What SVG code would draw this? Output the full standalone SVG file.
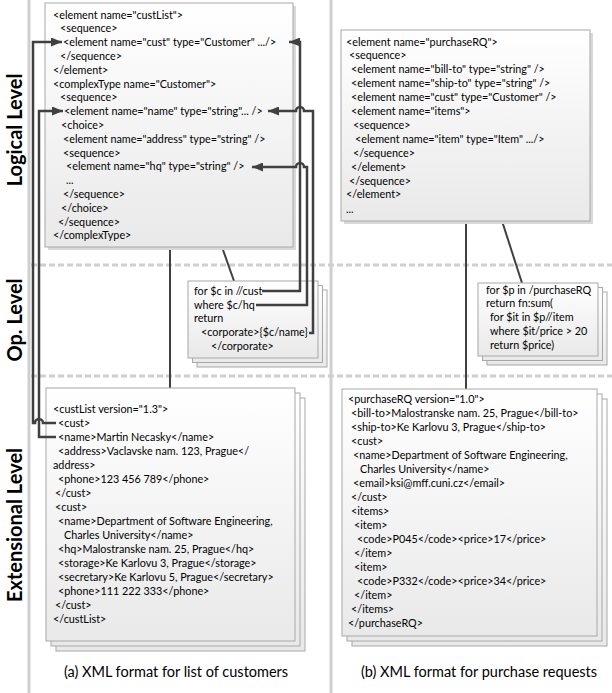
<svg xmlns="http://www.w3.org/2000/svg" width="612" height="693" viewBox="0 0 612 693">
<defs>
<linearGradient id="g" x1="0" y1="0" x2="0" y2="1"><stop offset="0" stop-color="#ffffff"/><stop offset="1" stop-color="#e9e9e9"/></linearGradient>
<marker id="ah" viewBox="0 0 11 9" refX="11" refY="4.5" markerWidth="11" markerHeight="9" markerUnits="userSpaceOnUse" orient="auto"><path d="M0,0 L11,4.5 L0,9 Z" fill="#404040"/></marker>
</defs>
<style>
.t{font-family:Lato,"Liberation Sans",sans-serif;font-size:10.8px;fill:#000}
.lvl{font-family:Lato,"Liberation Sans",sans-serif;font-weight:bold;font-size:20px;fill:#000;text-anchor:middle}
.cap{font-family:Lato,"Liberation Sans",sans-serif;font-size:14.5px;fill:#000;text-anchor:middle}
.box{fill:url(#g);stroke:#a8a8a8;stroke-width:1}
.shadow{fill:#d9d9d9}
.conn{fill:none;stroke:#404040;stroke-width:2.5}
.link{fill:none;stroke:#404040;stroke-width:2}
.sep{stroke:#cfcfcf;stroke-width:3}
.dash{stroke:#cfcfcf;stroke-width:3;stroke-dasharray:6 3}
</style>
<rect width="612" height="693" fill="#ffffff"/>
<g id="separators">
<line class="sep" x1="29" y1="0" x2="29" y2="693"/>
<line class="sep" x1="331" y1="0" x2="331" y2="693"/>
<line class="dash" x1="31" y1="265" x2="612" y2="265"/>
<line class="dash" x1="31" y1="376" x2="612" y2="376"/>
</g>
<g id="level-labels">
<text class="lvl" transform="translate(22,130) rotate(-90)">Logical Level</text>
<text class="lvl" transform="translate(22,320) rotate(-90)">Op. Level</text>
<text class="lvl" transform="translate(22,525) rotate(-90)">Extensional  Level</text>
</g>
<g id="links">
<line class="link" x1="170" y1="247" x2="170" y2="388"/>
<line class="link" x1="222" y1="247" x2="234" y2="281"/>
<line class="link" x1="466" y1="221" x2="466" y2="389"/>
<line class="link" x1="502" y1="221" x2="522" y2="283"/>
</g>
<g id="schema-custList">
<rect class="shadow" x="48" y="6" width="248" height="244"/>
<rect class="box" x="45" y="3" width="248" height="244"/>
<text class="t" x="53" y="18.5">&lt;element name="custList"&gt;</text>
<text class="t" x="60" y="32.3">&lt;sequence&gt;</text>
<text class="t" x="63" y="46.1">&lt;element name="cust" type="Customer" .../&gt;</text>
<text class="t" x="60" y="59.9">&lt;/sequence&gt;</text>
<text class="t" x="53" y="73.7">&lt;/element&gt;</text>
<text class="t" x="53" y="87.5">&lt;complexType name="Customer"&gt;</text>
<text class="t" x="60" y="101.3">&lt;sequence&gt;</text>
<text class="t" x="64" y="115.1">&lt;element name="name" type="string"... /&gt;</text>
<text class="t" x="61" y="128.9">&lt;choice&gt;</text>
<text class="t" x="63" y="142.7">&lt;element name="address" type="string" /&gt;</text>
<text class="t" x="63" y="156.5">&lt;sequence&gt;</text>
<text class="t" x="66" y="170.3">&lt;element name="hq" type="string" /&gt;</text>
<text class="t" x="66" y="184.1">...</text>
<text class="t" x="63" y="197.9">&lt;/sequence&gt;</text>
<text class="t" x="61" y="211.7">&lt;/choice&gt;</text>
<text class="t" x="58" y="225.5">&lt;/sequence&gt;</text>
<text class="t" x="53" y="239.3">&lt;/complexType&gt;</text>
</g>
<g id="schema-purchaseRQ">
<rect class="shadow" x="344" y="33" width="249" height="191"/>
<rect class="box" x="341" y="30" width="249" height="191"/>
<text class="t" x="346" y="45.5">&lt;element name="purchaseRQ"&gt;</text>
<text class="t" x="349" y="59.4">&lt;sequence&gt;</text>
<text class="t" x="351" y="73.3">&lt;element name="bill-to" type="string" /&gt;</text>
<text class="t" x="351" y="87.2">&lt;element name="ship-to" type="string" /&gt;</text>
<text class="t" x="351" y="101.1">&lt;element name="cust" type="Customer" /&gt;</text>
<text class="t" x="351" y="115">&lt;element name="items"&gt;</text>
<text class="t" x="353" y="128.9">&lt;sequence&gt;</text>
<text class="t" x="355" y="142.8">&lt;element name="item" type="Item" .../&gt;</text>
<text class="t" x="353" y="156.7">&lt;/sequence&gt;</text>
<text class="t" x="351" y="170.6">&lt;/element&gt;</text>
<text class="t" x="349" y="184.5">&lt;/sequence&gt;</text>
<text class="t" x="346" y="198.4">&lt;/element&gt;</text>
<text class="t" x="346" y="213">...</text>
</g>
<g id="query-corporate">
<rect class="box" x="197" y="290" width="130" height="77"/>
<rect class="box" x="192.5" y="285.5" width="130" height="77"/>
<rect class="box" x="188" y="281" width="130" height="77"/>
<text class="t" x="194" y="294.5">for $c in //cust</text>
<text class="t" x="194" y="308.5">where $c/hq</text>
<text class="t" x="194" y="321.5">return</text>
<text class="t" x="201" y="335.5">&lt;corporate&gt;{$c/name}</text>
<text class="t" x="211" y="349.5">&lt;/corporate&gt;</text>
</g>
<g id="query-sum">
<rect class="box" x="487" y="292" width="120" height="73"/>
<rect class="box" x="482.5" y="287.5" width="120" height="73"/>
<rect class="box" x="478" y="283" width="120" height="73"/>
<text class="t" x="486" y="293.5">for $p in /purchaseRQ</text>
<text class="t" x="486" y="307">return fn:sum(</text>
<text class="t" x="490" y="320.5">for $it in $p//item</text>
<text class="t" x="490" y="334.5">where $it/price &gt; 20</text>
<text class="t" x="490" y="348.5">return $price)</text>
</g>
<g id="doc-custList">
<rect class="box" x="56" y="398" width="249" height="253"/>
<rect class="box" x="51" y="393" width="249" height="253"/>
<rect class="box" x="46" y="388" width="249" height="253"/>
<text class="t" x="53" y="412.5">&lt;custList version="1.3"&gt;</text>
<text class="t" x="58" y="426.5">&lt;cust&gt;</text>
<text class="t" x="58" y="440.5">&lt;name&gt;Martin Necasky&lt;/name&gt;</text>
<text class="t" x="58" y="454.5">&lt;address&gt;Vaclavske nam. 123, Prague&lt;/</text>
<text class="t" x="53" y="468.5">address&gt;</text>
<text class="t" x="58" y="482.5">&lt;phone&gt;123 456 789&lt;/phone&gt;</text>
<text class="t" x="55" y="496.5">&lt;/cust&gt;</text>
<text class="t" x="55" y="510.5">&lt;cust&gt;</text>
<text class="t" x="58" y="524.5">&lt;name&gt;Department of Software Engineering,</text>
<text class="t" x="64" y="538.5">Charles University&lt;/name&gt;</text>
<text class="t" x="58" y="552.5">&lt;hq&gt;Malostranske nam. 25, Prague&lt;/hq&gt;</text>
<text class="t" x="58" y="566.5">&lt;storage&gt;Ke Karlovu 3, Prague&lt;/storage&gt;</text>
<text class="t" x="58" y="580.5">&lt;secretary&gt;Ke Karlovu 5, Prague&lt;/secretary&gt;</text>
<text class="t" x="58" y="594.5">&lt;phone&gt;111 222 333&lt;/phone&gt;</text>
<text class="t" x="55" y="608.5">&lt;/cust&gt;</text>
<text class="t" x="53" y="622.5">&lt;/custList&gt;</text>
</g>
<g id="doc-purchaseRQ">
<rect class="box" x="352" y="399" width="255" height="247"/>
<rect class="box" x="347" y="394" width="255" height="247"/>
<rect class="box" x="342" y="389" width="255" height="247"/>
<text class="t" x="348" y="402.5">&lt;purchaseRQ version="1.0"&gt;</text>
<text class="t" x="351" y="416.5">&lt;bill-to&gt;Malostranske nam. 25, Prague&lt;/bill-to&gt;</text>
<text class="t" x="351" y="430.5">&lt;ship-to&gt;Ke Karlovu 3, Prague&lt;/ship-to&gt;</text>
<text class="t" x="351" y="444.5">&lt;cust&gt;</text>
<text class="t" x="353" y="458.5">&lt;name&gt;Department of Software Engineering,</text>
<text class="t" x="360" y="472.5">Charles University&lt;/name&gt;</text>
<text class="t" x="353" y="486.5">&lt;email&gt;ksi@mff.cuni.cz&lt;/email&gt;</text>
<text class="t" x="351" y="500.5">&lt;/cust&gt;</text>
<text class="t" x="351" y="514.5">&lt;items&gt;</text>
<text class="t" x="354" y="528.5">&lt;item&gt;</text>
<text class="t" x="357" y="542.5">&lt;code&gt;P045&lt;/code&gt;&lt;price&gt;17&lt;/price&gt;</text>
<text class="t" x="354" y="556.5">&lt;/item&gt;</text>
<text class="t" x="354" y="570.5">&lt;item&gt;</text>
<text class="t" x="357" y="584.5">&lt;code&gt;P332&lt;/code&gt;&lt;price&gt;34&lt;/price&gt;</text>
<text class="t" x="354" y="598.5">&lt;/item&gt;</text>
<text class="t" x="351" y="612.5">&lt;/items&gt;</text>
<text class="t" x="348" y="626.5">&lt;/purchaseRQ&gt;</text>
</g>
<g id="connectors">
<path class="conn" marker-end="url(#ah)" d="M56,423 H43 A4,4 0 0 0 35,423 H33 V42 H62"/>
<path class="conn" marker-end="url(#ah)" d="M56,437 H39 V111 H63"/>
<path class="conn" marker-end="url(#ah)" d="M262,291 H300 V42 H289"/>
<path class="conn" marker-end="url(#ah)" d="M256,305 H307 V167 H304 A4,4 0 0 0 296,167 H252"/>
<path class="conn" marker-end="url(#ah)" d="M309,333 H313 V111 H304 A4,4 0 0 0 296,111 H268"/>
</g>
<g id="captions">
<text class="cap" x="176" y="677">(a) XML format for list of customers</text>
<text class="cap" x="479" y="677">(b) XML format for purchase requests</text>
</g>
</svg>
